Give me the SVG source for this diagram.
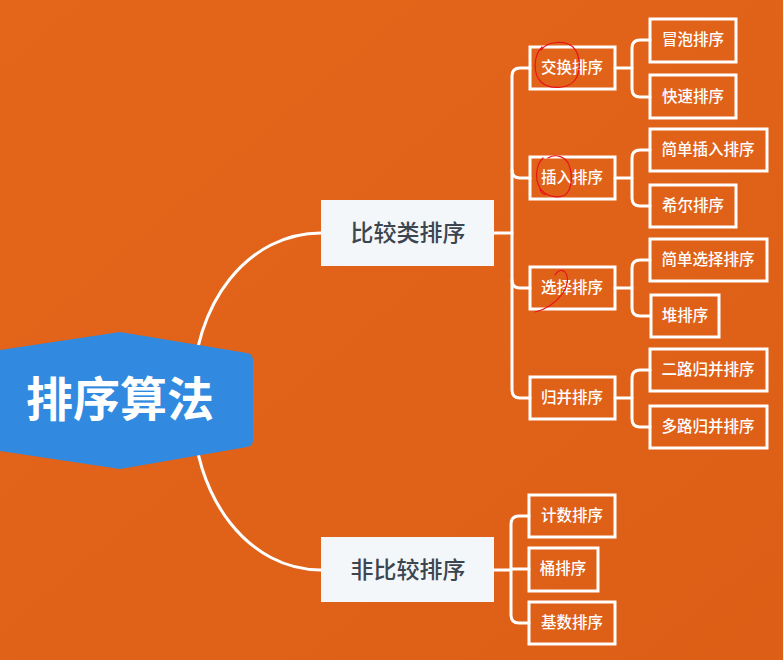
<svg xmlns="http://www.w3.org/2000/svg" width="783" height="660" viewBox="0 0 783 660">
<defs>
<linearGradient id="bg" x1="0" y1="0" x2="1" y2="1">
<stop offset="0" stop-color="#E4661B"/>
<stop offset="1" stop-color="#DD5E16"/>
</linearGradient>
<style>
.conn{fill:none;stroke:#FFFFFF;stroke-width:3;stroke-linecap:round;stroke-linejoin:round}
.box{fill:none;stroke:#FFFFFF;stroke-width:3}
.t{font-family:"Noto Sans CJK SC","Noto Sans",sans-serif;fill:#FFFFFF;font-size:15.5px;font-weight:500;text-anchor:middle}
.l1{fill:#F4F7FA}
.t1{font-family:"Noto Sans CJK SC","Noto Sans",sans-serif;fill:#3C4650;font-size:23px;font-weight:500;text-anchor:middle}
.mark{fill:none;stroke:#E8141C;stroke-width:1.2;stroke-linecap:round}
</style>
</defs>
<rect x="0" y="0" width="783" height="660" fill="url(#bg)"/>
<g id="connectors">
<path class="conn" d="M192,400 C192,300 250,233 321,233"/>
<path class="conn" d="M192,400 C192,500 250,570 321,570"/>
<path class="conn" d="M494,233 H512"/>
<path class="conn" d="M530,68 H520 Q512,68 512,76 V390 Q512,398 520,398 H530"/>
<path class="conn" d="M512,170 Q512,178 520,178 H530"/>
<path class="conn" d="M512,280 Q512,288 520,288 H530"/>
<path class="conn" d="M615,68 H632"/>
<path class="conn" d="M650,40 H640 Q632,40 632,48 V89 Q632,97 640,97 H650"/>
<path class="conn" d="M615,178 H632"/>
<path class="conn" d="M650,150 H640 Q632,150 632,158 V198 Q632,206 640,206 H650"/>
<path class="conn" d="M615,288 H632"/>
<path class="conn" d="M650,260 H640 Q632,260 632,268 V308 Q632,316 640,316 H650"/>
<path class="conn" d="M615,398 H632"/>
<path class="conn" d="M650,370 H640 Q632,370 632,378 V419 Q632,427 640,427 H650"/>
<path class="conn" d="M494,570 H511"/>
<path class="conn" d="M529,516 H519 Q511,516 511,524 V615 Q511,623 519,623 H529"/>
<path class="conn" d="M511,569 H529"/>
</g>
<g id="root">
<path d="M0,350 L120,332 L247,353 Q253,354 253,360 V440 Q253,446 247,447 L120,469 L0,451 Z" fill="#318ADF"/>
<text x="120" y="416" font-family="'Noto Sans CJK SC',sans-serif" font-size="47" font-weight="bold" fill="#FFFFFF" text-anchor="middle">排序算法</text>
</g>
<g id="n-compare">
<rect class="l1" x="321" y="200" width="173" height="66"/>
<text class="t1" x="408" y="241">比较类排序</text>
</g>
<g id="n-noncompare">
<rect class="l1" x="321" y="537" width="173" height="65"/>
<text class="t1" x="408" y="578">非比较排序</text>
</g>
<g id="n-swap"><rect class="box" x="530" y="47" width="85" height="42"/><text class="t" x="572" y="73">交换排序</text></g>
<g id="n-insert"><rect class="box" x="530" y="157" width="85" height="42"/><text class="t" x="572" y="183">插入排序</text></g>
<g id="n-select"><rect class="box" x="530" y="267" width="85" height="42"/><text class="t" x="572" y="293">选择排序</text></g>
<g id="n-merge"><rect class="box" x="530" y="377" width="85" height="42"/><text class="t" x="572" y="403">归并排序</text></g>
<g id="n-bubble"><rect class="box" x="650" y="19" width="86" height="43"/><text class="t" x="693" y="45">冒泡排序</text></g>
<g id="n-quick"><rect class="box" x="650" y="75" width="86" height="43"/><text class="t" x="693" y="102">快速排序</text></g>
<g id="n-sinsert"><rect class="box" x="650" y="129" width="117" height="42"/><text class="t" x="708" y="155">简单插入排序</text></g>
<g id="n-shell"><rect class="box" x="650" y="185" width="86" height="42"/><text class="t" x="693" y="211">希尔排序</text></g>
<g id="n-sselect"><rect class="box" x="650" y="239" width="117" height="42"/><text class="t" x="708" y="265">简单选择排序</text></g>
<g id="n-heap"><rect class="box" x="651" y="295" width="68" height="42"/><text class="t" x="685" y="321">堆排序</text></g>
<g id="n-merge2"><rect class="box" x="650" y="349" width="117" height="42"/><text class="t" x="708" y="375">二路归并排序</text></g>
<g id="n-mergek"><rect class="box" x="650" y="406" width="117" height="42"/><text class="t" x="708" y="432">多路归并排序</text></g>
<g id="n-count"><rect class="box" x="529" y="495" width="86" height="42"/><text class="t" x="572" y="521">计数排序</text></g>
<g id="n-bucket"><rect class="box" x="529" y="548" width="69" height="43"/><text class="t" x="563" y="574">桶排序</text></g>
<g id="n-radix"><rect class="box" x="529" y="602" width="86" height="42"/><text class="t" x="572" y="628">基数排序</text></g>
<g id="marks">
<path class="mark" d="M541,50 C548,41 565,40 573,47 C581,55 581,72 575,80 C568,89 550,90 541,82 C533,74 533,56 542,47"/>
<path class="mark" d="M548,158 C556,153 566,157 569,165 C573,175 572,190 565,195 C557,199 545,196 540,188 C535,180 535,166 543,158 M540,188 C540,193 544,195 547,194"/>
<path class="mark" d="M535,312 C545,310 556,303 563,293 C568,286 569,277 565,272 C562,269 558,270 555,275"/>
</g>
</svg>
